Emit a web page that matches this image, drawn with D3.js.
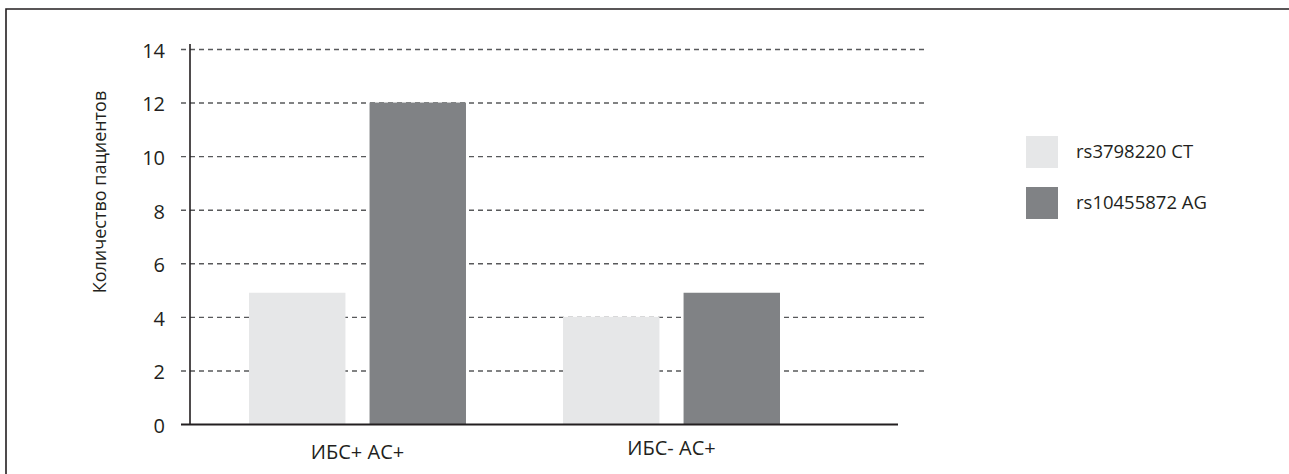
<!DOCTYPE html>
<meta charset="utf-8">
<title>Количество пациентов</title>
<style>
    html, body {
        margin: 0;
        background: #fff;
        overflow: hidden;
    }

    svg {
        display: block;
    }

    text {
        font-family: "Open Sans", "Noto Sans", sans-serif;
        fill: #231f20;
    }

    .grid line {
        stroke: #58595b;
        stroke-width: 1.4px;
        stroke-dasharray: 5, 4;
    }
</style>

<body>
    <svg id="chart"></svg>
</body>

<script src="https://cdn.jsdelivr.net/npm/d3@7"></script>
<script>
    // data
    var categories = ["ИБС+ АС+", "ИБС- АС+"];
    var seriesNames = ["rs3798220 CT", "rs10455872 AG"];
    var ctValues = [4.9, 4];
    var agValues = [12, 4.9];
    var yTicks = [0, 2, 4, 6, 8, 10, 12, 14];
    var seriesColors = ["#e6e7e8", "#808285"];

    var width = 1289,
        height = 474;

    var svg = d3.select("#chart")
        .attr("width", width)
        .attr("height", height);

    // frame, only top and left edges show in the picture
    svg.append("path")
        .attr("d", "M6," + height + "V9H" + width)
        .attr("fill", "none")
        .attr("stroke", "#231f20")
        .attr("stroke-width", 1.6);

    var axisX = 190,
        baseY = 424;

    var y = d3.scaleLinear()
        .domain([0, 14])
        .range([baseY, 49]);

    var x0 = d3.scaleBand()
        .domain(categories)
        .range([249, 780])
        .paddingInner(0.309);

    var x1 = d3.scaleBand()
        .domain(seriesNames)
        .range([0, x0.bandwidth()])
        .paddingInner(0.2);

    // dashed grid lines (not at zero, the baseline is solid)
    svg.append("g")
        .attr("class", "grid")
        .attr("transform", "translate(181,0)")
        .call(d3.axisLeft(y)
            .tickValues(yTicks.filter(d => d > 0))
            .tickSize(-747)
            .tickFormat(""))
        .call(g => g.select(".domain").remove());

    // bars
    var rows = categories.map((c, i) => ({
        cat: c,
        vals: [ctValues[i], agValues[i]]
    }));

    svg.append("g")
        .selectAll("g")
        .data(rows)
        .join("g")
        .attr("transform", d => "translate(" + x0(d.cat) + ",0)")
        .selectAll("rect")
        .data(d => d.vals.map((v, j) => ({ name: seriesNames[j], value: v, j: j })))
        .join("rect")
        .attr("x", d => x1(d.name))
        .attr("width", x1.bandwidth())
        .attr("y", d => y(d.value))
        .attr("height", d => baseY - y(d.value))
        .attr("fill", d => seriesColors[d.j]);

    // y axis line
    svg.append("line")
        .attr("x1", axisX).attr("x2", axisX)
        .attr("y1", 44).attr("y2", baseY)
        .attr("stroke", "#231f20")
        .attr("stroke-width", 1.6);

    // baseline
    svg.append("line")
        .attr("x1", 181).attr("x2", 898)
        .attr("y1", baseY + 0.5).attr("y2", baseY + 0.5)
        .attr("stroke", "#231f20")
        .attr("stroke-width", 1.8);

    // tick labels
    svg.append("g")
        .attr("transform", "translate(" + axisX + ",2)")
        .call(d3.axisLeft(y)
            .tickValues(yTicks)
            .tickSize(0)
            .tickPadding(25))
        .call(g => g.select(".domain").remove())
        .selectAll("text")
        .style("font-size", "20px")
        .style("font-family", "'Open Sans', sans-serif")
        .attr("fill", "#231f20");

    // category labels, the second one sits a little higher in the source
    svg.append("g")
        .attr("transform", "translate(0,459)")
        .call(d3.axisBottom(x0).tickSize(0).tickPadding(0))
        .call(g => g.select(".domain").remove())
        .selectAll("text")
        .attr("dy", (d, i) => i === 0 ? 0 : -4)
        .style("font-size", "20px")
        .style("font-family", "'Open Sans', sans-serif")
        .attr("fill", "#231f20");

    // y title
    svg.append("text")
        .attr("transform", "translate(106,192) rotate(-90)")
        .attr("text-anchor", "middle")
        .style("font-size", "18px")
        .text("Количество пациентов");

    // legend
    var legend = svg.append("g")
        .selectAll("g")
        .data(seriesNames)
        .join("g")
        .attr("transform", (d, i) => "translate(1026," + (136 + i * 51) + ")");

    legend.append("rect")
        .attr("width", 32)
        .attr("height", 32)
        .attr("fill", (d, i) => seriesColors[i]);

    legend.append("text")
        .attr("x", 50)
        .attr("y", 16)
        .attr("dy", "0.35em")
        .style("font-size", "18.5px")
        .text(d => d);
</script>
